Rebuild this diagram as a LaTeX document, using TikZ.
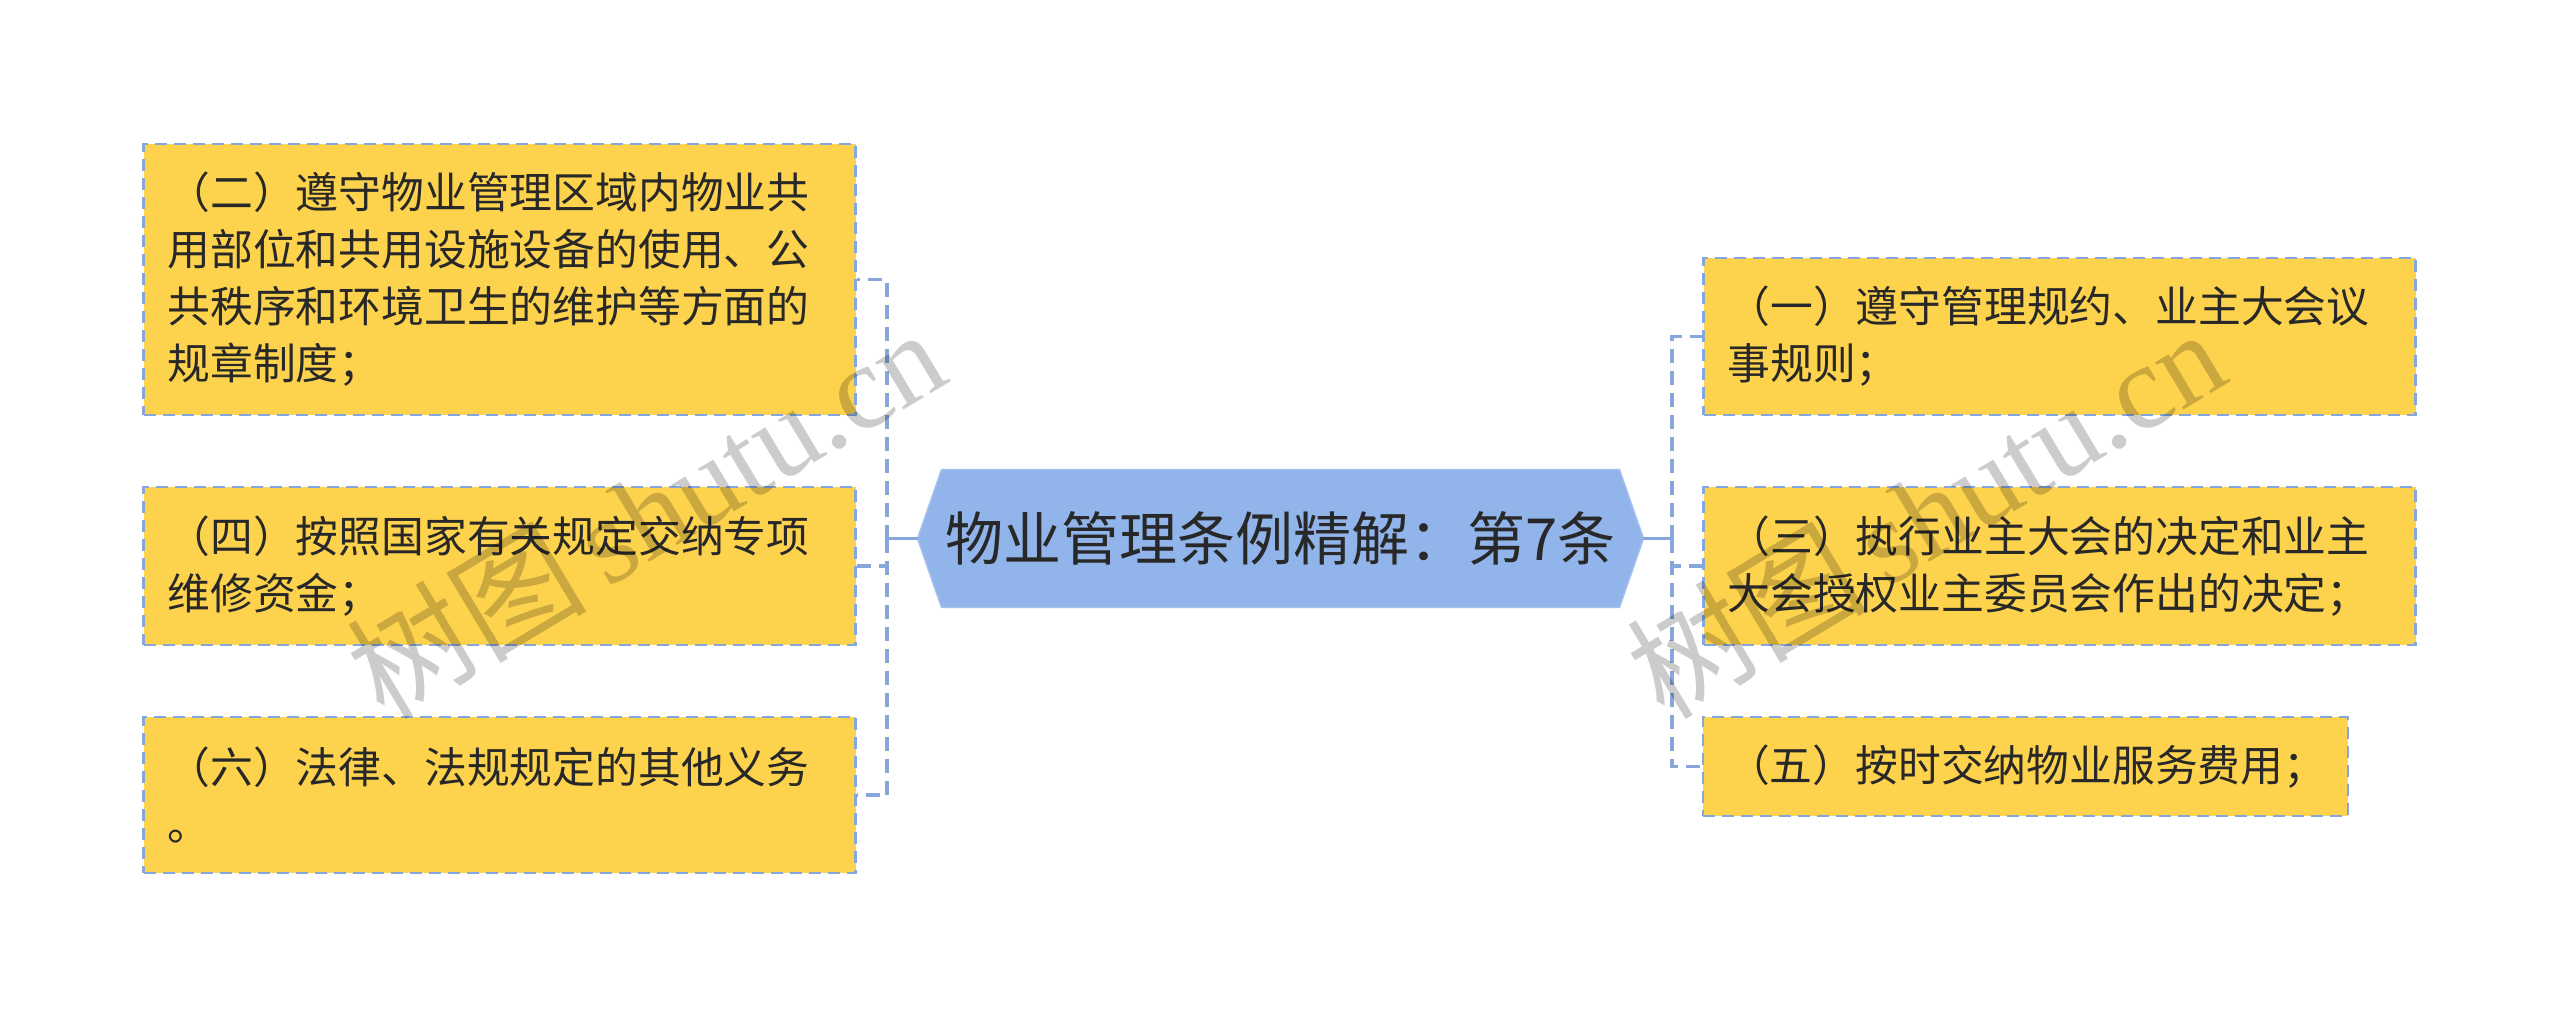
\documentclass[tikz,border=0pt]{standalone}
\usepackage{fontspec}
\setmainfont{Noto Sans CJK SC}
\newfontfamily\wmcjk{Noto Sans CJK SC}
\newfontfamily\wmserif{Liberation Serif}
\usetikzlibrary{backgrounds}
\definecolor{leafyellow}{RGB}{253,211,78}
\definecolor{rootblue}{RGB}{145,180,234}
\definecolor{linkblue}{RGB}{133,167,220}
\definecolor{txt}{RGB}{40,40,40}
\tikzset{
  x=0.5pt, y=-0.5pt,
  leaf/.style={draw=linkblue, line width=1.3pt, dash pattern=on 6pt off 3.5pt,
    fill=leafyellow, rectangle, inner xsep=12pt, inner ysep=0pt,
    minimum width=356pt, text width=332pt, align=left, text=txt,
    font=\fontsize{21.4pt}{28.5pt}\selectfont},
  rootnode/.style={rectangle, inner sep=0pt, minimum width=338.5pt,
    minimum height=68.5pt, text=txt, font=\fontsize{29pt}{34pt}\selectfont},
  solidlink/.style={draw=linkblue, line width=1.6pt},
  dashlink/.style={draw=linkblue, line width=1.6pt, dash pattern=on 7pt off 4pt},
  watermark/.style={rotate=31, text=black, text opacity=0.2,
    font=\fontsize{60pt}{62pt}\selectfont}
}
\begin{document}
\begin{tikzpicture}
\useasboundingbox (0,0) rectangle (2560,1019);
% root
\node[rootnode] (root) at (1280.5,538.5) {物业管理条例精解：第7条};
\begin{scope}[on background layer]
\fill[rootblue, draw=rootblue!85!white, line width=0.8pt]
  ([xshift=-12pt]root.west) -- (root.north west) -- (root.north east)
  -- ([xshift=12pt]root.east) -- (root.south east) -- (root.south west) -- cycle;
\end{scope}
\coordinate (rootW) at ([xshift=-12pt]root.west);
\coordinate (rootE) at ([xshift=12pt]root.east);
% left leaves
\node[leaf, minimum height=135.5pt] (L1) at (499.5,279.5)
  {（二）遵守物业管理区域内物业共\\用部位和共用设施设备的使用、公\\共秩序和环境卫生的维护等方面的\\规章制度；};
\node[leaf, minimum height=79pt] (L2) at (499.5,566)
  {（四）按照国家有关规定交纳专项\\维修资金；};
\node[leaf, minimum height=78pt] (L3) at (499.5,795)
  {（六）法律、法规规定的其他义务\\。};
% right leaves
\node[leaf, minimum height=78.5pt] (R1) at (2059.5,336.5)
  {（一）遵守管理规约、业主大会议\\事规则；};
\node[leaf, minimum height=79pt] (R2) at (2059.5,566)
  {（三）执行业主大会的决定和业主\\大会授权业主委员会作出的决定；};
\node[leaf, minimum height=49.5pt, minimum width=322.5pt, text width=298.5pt] (R3) at (2025.5,766.5)
  {（五）按时交纳物业服务费用；};
% trunks
\coordinate (tL) at (887,538.5);
\coordinate (tR) at (1672,538.5);
\draw[solidlink] (rootW) -- (tL);
\draw[solidlink] (rootE) -- (tR);
\draw[dashlink] (tL) |- (L1.east);
\draw[dashlink] (tL) |- (L2.east);
\draw[dashlink] (tL) |- (L3.east);
\draw[dashlink] (tR) |- (R1.west);
\draw[dashlink] (tR) |- (R2.west);
\draw[dashlink] (tR) |- (R3.west);
% watermarks
\node[watermark] (wm1) at (645,512) {\wmcjk 树图\,\wmserif shutu.cn};
\node[watermark] (wm2) at (1925,512) {\wmcjk 树图\,\wmserif shutu.cn};
\end{tikzpicture}
\end{document}
